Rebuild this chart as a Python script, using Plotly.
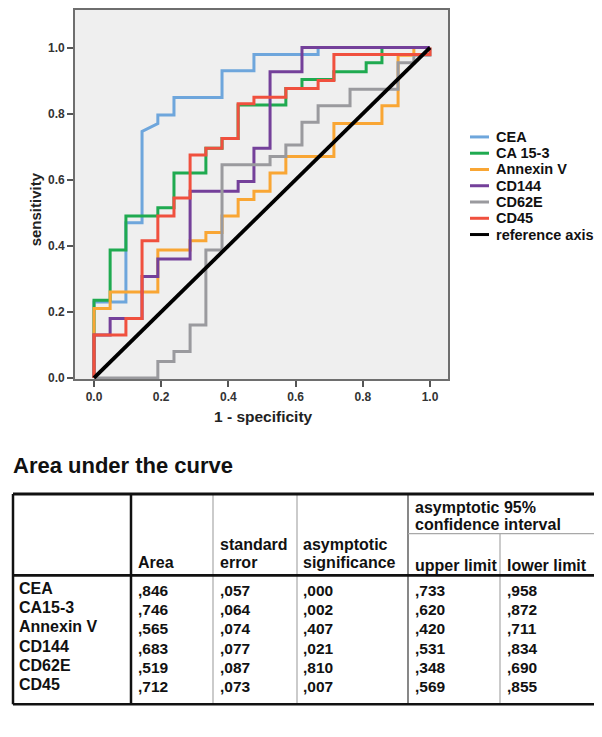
import plotly.graph_objects as go

W, H = 602, 737
OFF = 8  # the page body adds an 8px margin; positions below are given in window pixels

# ---------------- ROC data ----------------
series_names = ["CEA", "CA 15-3", "Annexin V", "CD144", "CD62E", "CD45", "reference axis"]
series_colors = ["#6EA6DC", "#1FAA50", "#F9A634", "#74409A", "#9A9A9E", "#F0503E", "#000000"]

cea_x = [0, 0, 0.095, 0.095, 0.143, 0.143, 0.190, 0.190, 0.238, 0.238, 0.381, 0.381, 0.476, 0.476, 0.667, 0.667, 1.0]
cea_y = [0, 0.230, 0.230, 0.470, 0.470, 0.746, 0.770, 0.796, 0.796, 0.849, 0.849, 0.930, 0.930, 0.979, 0.979, 1.0, 1.0]

ca153_x = [0, 0, 0.048, 0.048, 0.095, 0.095, 0.190, 0.190, 0.238, 0.238, 0.333, 0.333, 0.381, 0.381, 0.429, 0.429,
           0.571, 0.571, 0.619, 0.619, 0.714, 0.714, 0.810, 0.810, 0.857, 0.857, 1.0]
ca153_y = [0, 0.235, 0.235, 0.387, 0.387, 0.490, 0.490, 0.515, 0.515, 0.620, 0.620, 0.695, 0.695, 0.725, 0.725, 0.826,
           0.826, 0.876, 0.876, 0.903, 0.903, 0.927, 0.927, 0.954, 0.954, 1.0, 1.0]

annex_x = [0, 0, 0.048, 0.048, 0.190, 0.190, 0.286, 0.286, 0.333, 0.333, 0.381, 0.381, 0.429, 0.429, 0.476, 0.476,
           0.524, 0.524, 0.571, 0.571, 0.714, 0.714, 0.857, 0.857, 0.905, 0.905, 0.952, 0.952, 1.0]
annex_y = [0, 0.210, 0.210, 0.260, 0.260, 0.387, 0.387, 0.415, 0.415, 0.440, 0.440, 0.490, 0.490, 0.540, 0.540, 0.565,
           0.565, 0.620, 0.620, 0.670, 0.670, 0.770, 0.770, 0.824, 0.824, 0.977, 0.977, 1.0, 1.0]

cd144_x = [0, 0, 0.048, 0.048, 0.143, 0.143, 0.190, 0.190, 0.286, 0.286, 0.429, 0.429, 0.476, 0.476, 0.524, 0.524,
           0.619, 0.619, 1.0]
cd144_y = [0, 0.130, 0.130, 0.180, 0.180, 0.307, 0.307, 0.360, 0.360, 0.565, 0.565, 0.595, 0.595, 0.695, 0.695, 0.927,
           0.927, 1.0, 1.0]

cd62e_x = [0, 0.190, 0.190, 0.238, 0.238, 0.286, 0.286, 0.333, 0.333, 0.381, 0.381, 0.524, 0.524, 0.571, 0.571, 0.619,
           0.619, 0.667, 0.667, 0.762, 0.762, 0.905, 0.905, 0.952, 0.952, 1.0, 1.0]
cd62e_y = [0, 0, 0.050, 0.050, 0.080, 0.080, 0.160, 0.160, 0.387, 0.387, 0.645, 0.645, 0.670, 0.670, 0.705, 0.705,
           0.774, 0.774, 0.824, 0.824, 0.874, 0.874, 0.954, 0.954, 0.977, 0.977, 1.0]

cd45_x = [0, 0, 0.095, 0.095, 0.143, 0.143, 0.190, 0.190, 0.238, 0.238, 0.286, 0.286, 0.333, 0.333, 0.381, 0.381,
          0.429, 0.429, 0.476, 0.476, 0.571, 0.571, 0.667, 0.667, 0.714, 0.714, 1.0, 1.0]
cd45_y = [0, 0.130, 0.130, 0.180, 0.180, 0.415, 0.415, 0.490, 0.490, 0.545, 0.545, 0.675, 0.675, 0.695, 0.695, 0.725,
          0.725, 0.830, 0.830, 0.850, 0.850, 0.876, 0.876, 0.900, 0.900, 0.979, 0.979, 1.0]

ref_x = [0, 1]
ref_y = [0, 1]

tick_vals = [0.0, 0.2, 0.4, 0.6, 0.8, 1.0]
tick_text = ["0.0", "0.2", "0.4", "0.6", "0.8", "1.0"]

# ---------------- Table data ----------------
table_title = "Area under the curve"
row_labels = ["CEA", "CA15-3", "Annexin V", "CD144", "CD62E", "CD45"]
auc_area = [0.846, 0.746, 0.565, 0.683, 0.519, 0.712]
auc_se = [0.057, 0.064, 0.074, 0.077, 0.087, 0.073]
auc_sig = [0.000, 0.002, 0.407, 0.021, 0.810, 0.007]
ci_upper = [0.733, 0.620, 0.420, 0.531, 0.348, 0.569]
ci_lower = [0.958, 0.872, 0.711, 0.834, 0.690, 0.855]


def fmt(v):
    return f"{v:.3f}".replace("0.", ",", 1)


def px(x):  # window x pixel -> paper
    return (x - OFF) / W


def py(y):  # window y pixel -> paper
    return 1 - (y - OFF) / H


SANS = "Liberation Sans, Arial, sans-serif"

fig = go.Figure()
xs = [cea_x, ca153_x, annex_x, cd144_x, cd62e_x, cd45_x, ref_x]
ys = [cea_y, ca153_y, annex_y, cd144_y, cd62e_y, cd45_y, ref_y]
for i, name in enumerate(series_names):
    fig.add_trace(go.Scatter(
        x=xs[i], y=ys[i], mode="lines", name=name,
        line=dict(color=series_colors[i], width=3.8 if name == "reference axis" else 3),
        showlegend=False, hoverinfo="skip"))

plot_left, plot_right, plot_top, plot_bottom = 75, 448, 10, 382
x0px, x1px = 94, 430
y0px, y1px = 382, 48
sx = (x1px - x0px)
sy = (y0px - y1px)
xr = [(plot_left - x0px) / sx, (plot_right - x0px) / sx]
yr = [-0.003, (y0px - plot_top) / sy]

axis_common = dict(
    showgrid=False, zeroline=False, showline=True, linecolor="#6E6E6E", linewidth=1.6, mirror=True,
    ticks="outside", ticklen=6, tickwidth=1.6, tickcolor="#555555",
    tickvals=tick_vals, ticktext=tick_text,
    tickfont=dict(family=SANS, size=12, color="#333333", weight="bold"),
)
fig.update_layout(
    width=W, height=H, margin=dict(l=0, r=0, t=0, b=0),
    paper_bgcolor="white", plot_bgcolor="#EFEFEF",
    xaxis=dict(domain=[px(plot_left), px(plot_right)], range=xr, **axis_common),
    yaxis=dict(domain=[py(plot_bottom), py(plot_top)], range=yr, **axis_common),
    showlegend=False,
)

annotations = []
shapes = []

# axis titles
annotations.append(dict(text="sensitivity", x=px(35), y=py(211), xref="paper", yref="paper", showarrow=False,
                        xanchor="center", yanchor="middle", textangle=-90,
                        font=dict(family=SANS, size=15, color="#222222", weight="bold")))
annotations.append(dict(text="1 - specificity", x=px(263), y=py(420), xref="paper", yref="paper", showarrow=False,
                        xanchor="center", yanchor="middle",
                        font=dict(family=SANS, size=15.5, color="#222222", weight="bold")))

# legend (drawn manually for exact spacing)
leg_top, leg_step = 138, 16.4
for i, name in enumerate(series_names):
    yc = leg_top + i * leg_step
    shapes.append(dict(type="line", xref="paper", yref="paper", x0=px(470), x1=px(489), y0=py(yc), y1=py(yc),
                       line=dict(color=series_colors[i], width=3)))
    annotations.append(dict(text=name, x=px(494), y=py(yc), xref="paper", yref="paper", showarrow=False,
                            xanchor="left", yanchor="middle",
                            font=dict(family=SANS, size=14.5, color="#111111", weight="bold")))

# table title
annotations.append(dict(text=table_title, x=px(11), y=py(469), xref="paper", yref="paper", showarrow=False,
                        xanchor="left", yanchor="middle",
                        font=dict(family=SANS, size=22, color="#111111", weight="bold")))

# table lines
T = 5  # vertical shift of the table block
t_left, t_right, t_top, t_bot = 13, 600, 493 + T, 705 + T
col_seps = [131, 213, 297, 408, 500]
sub_line_y, head_line_y = 533 + T, 575 + T


def hline(y, xa, xb, color, w):
    shapes.append(dict(type="line", xref="paper", yref="paper", x0=px(xa), x1=px(xb), y0=py(y), y1=py(y),
                       line=dict(color=color, width=w)))


def vline(x, ya, yb, color, w):
    shapes.append(dict(type="line", xref="paper", yref="paper", x0=px(x), x1=px(x), y0=py(ya), y1=py(yb),
                       line=dict(color=color, width=w)))


vline(t_left, t_top, t_bot, "#111111", 2.5)
vline(col_seps[0], t_top, t_bot, "#111111", 2.5)
vline(col_seps[1], t_top, t_bot, "#A8A8A8", 1.2)
vline(col_seps[2], t_top, t_bot, "#A8A8A8", 1.2)
vline(col_seps[3], t_top, t_bot, "#555555", 1.4)
vline(col_seps[4], sub_line_y, t_bot, "#A8A8A8", 1.2)
vline(t_right, t_top, t_bot, "#222222", 2.2)
hline(t_top, t_left, t_right, "#111111", 2.8)
hline(sub_line_y, col_seps[3], t_right, "#A8A8A8", 1.2)
hline(head_line_y, t_left, t_right, "#111111", 2.8)
hline(t_bot, t_left, t_right, "#111111", 2.5)


def txt(s, x, y, size=16):
    annotations.append(dict(text=s, x=px(x), y=py(y + T), xref="paper", yref="paper", showarrow=False,
                            xanchor="left", yanchor="middle",
                            font=dict(family=SANS, size=size, color="#111111", weight="bold")))


# header
txt("asymptotic 95%", 413, 507)
txt("confidence interval", 413, 524)
txt("standard", 218, 544)
txt("error", 218, 562)
txt("asymptotic", 301, 544)
txt("significance", 301, 562)
txt("Area", 136, 562)
txt("upper limit", 413, 565)
txt("lower limit", 505, 565)

# body rows
row_y0, row_step = 588, 19.5
text_x = [136, 218, 301, 413, 505]
cols = [auc_area, auc_se, auc_sig, ci_upper, ci_lower]
for r, lab in enumerate(row_labels):
    yc = row_y0 + r * row_step
    txt(lab, 17, yc, 16)
    for c, vals in enumerate(cols):
        txt(fmt(vals[r]), text_x[c], yc + 2, 15.5)

fig.update_layout(annotations=annotations, shapes=shapes)
fig.write_html("out.html")
